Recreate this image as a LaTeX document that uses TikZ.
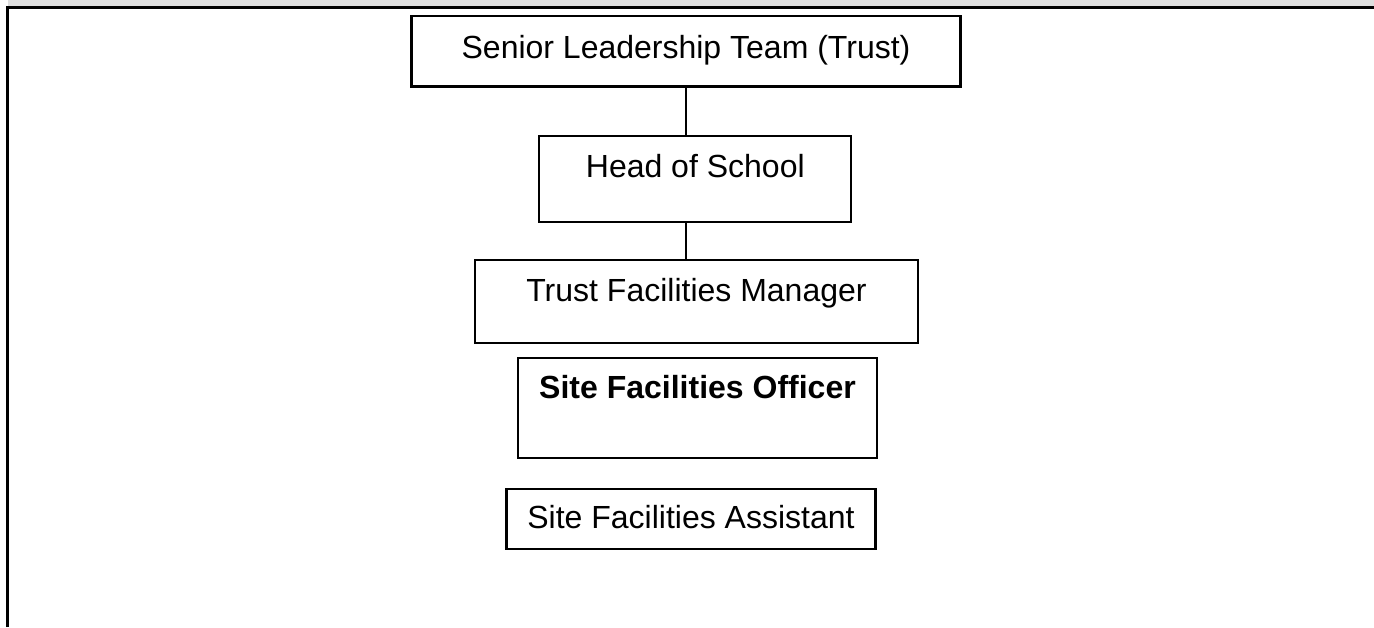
\documentclass[tikz,border=0pt]{standalone}
\usepackage{fontspec}
\setmainfont{Liberation Sans}
\definecolor{bandgrey}{HTML}{DEDEDE}
\begin{document}
\begin{tikzpicture}[x=1pt,y=-1pt,
  box/.style={draw=black, line width=2.2pt, rectangle, anchor=north west,
    inner ysep=0pt, inner xsep=0pt, outer sep=0pt, align=center,
    font=\fontsize{32}{38}\selectfont},
  link/.style={draw=black, line width=2.2pt}]
\useasboundingbox (0,0) rectangle (1374,627);
% frame
\fill[bandgrey] (8,0) rectangle (1374,7);
\draw[black, line width=2.6pt] (7.3,627) -- (7.3,7.3) -- (1374,7.3);
% boxes
\node[box, minimum width=549pt, text height=42pt, text depth=28.5pt] (slt) at (411.5,16) {Senior Leadership Team (Trust)};
\node[box, minimum width=312pt, text height=41pt, text depth=45pt] (head) at (539.3,136) {Head of School};
\node[box, minimum width=443pt, text height=41pt, text depth=42pt] (tfm) at (475,260) {Trust Facilities Manager};
\node[box, minimum width=359pt, text height=40.5pt, text depth=59.5pt] (sfo) at (518,358) {\bfseries Site Facilities Officer};
\node[box, minimum width=369pt, text height=39pt, text depth=21pt] (sfa) at (506.5,489) {Site Facilities Assistant};
% connectors
\draw[link] (slt.south) -- (slt.south |- head.north);
\draw[link] (slt.south |- head.south) -- (slt.south |- tfm.north);
\end{tikzpicture}
\end{document}
